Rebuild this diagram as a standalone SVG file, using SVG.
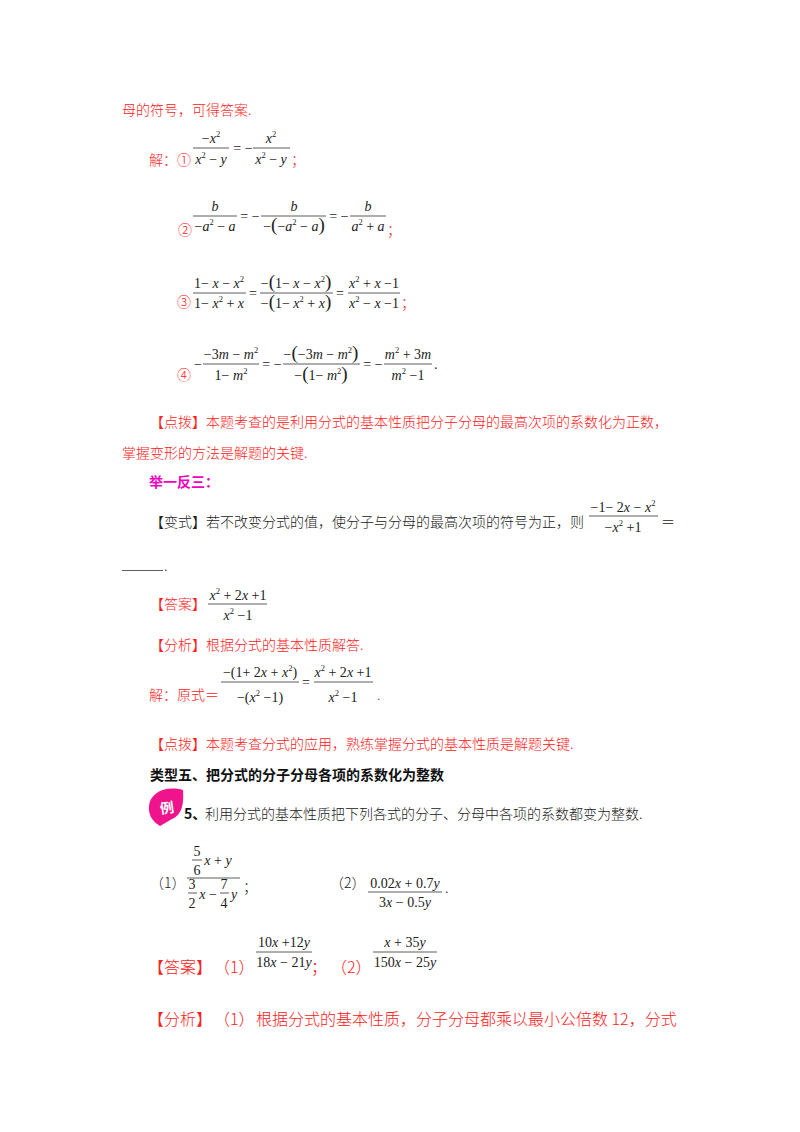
<svg xmlns="http://www.w3.org/2000/svg" width="800" height="1132" viewBox="0 0 800 1132">
<style>
text{font-family:"Noto Sans CJK SC","Liberation Serif",sans-serif;font-size:14px;fill:#ff2020;font-weight:300}
.k{fill:#222}
.b{font-weight:700;fill:#111}
.m{fill:#f000c0;font-weight:700}
.l{font-size:16px}
.t{font-family:"Liberation Serif",serif;font-size:14px;fill:#222;font-weight:400;text-anchor:middle}
.i{font-style:italic}
.s{font-size:8.5px}
.p{font-size:19px;font-weight:400}
.n{font-family:"Liberation Serif",serif;font-size:14px;fill:#222;font-weight:400}
line{stroke:#333;stroke-width:.8}
</style>
<rect width="800" height="1132" fill="#fff"/>

<g id="prose">
<text x="122" y="115">母的符号，可得答案.</text>
<text x="149" y="165">解：①</text>
<text x="178" y="235">②</text>
<text x="291" y="165">；</text>
<text x="387" y="235">；</text>
<text x="177" y="307">③</text>
<text x="401" y="308">；</text>
<text x="177" y="380">④</text>
<text x="150" y="427">【点拨】本题考查的是利用分式的基本性质把分子分母的最高次项的系数化为正数，</text>
<text x="122" y="458">掌握变形的方法是解题的关键.</text>
<text class="m" x="149" y="487">举一反三：</text>
<text class="k" x="150" y="527">【变式】若不改变分式的值，使分子与分母的最高次项的符号为正，则</text>
<text class="k" x="661" y="527">＝</text>
<line x1="122" y1="570.5" x2="163" y2="570.5"/>
<text class="k" x="164" y="571">.</text>
<text x="150" y="609">【答案】</text>
<text x="150" y="650">【分析】根据分式的基本性质解答.</text>
<text x="149" y="700">解：原式＝</text>
<text x="377" y="700">.</text>
<text x="150" y="749">【点拨】本题考查分式的应用，熟练掌握分式的基本性质是解题关键.</text>
<text class="b" x="150" y="780">类型五、把分式的分子分母各项的系数化为整数</text>
<text class="b" x="184" y="819">5、</text>
<text class="k" x="205" y="819">利用分式的基本性质把下列各式的分子、分母中各项的系数都变为整数.</text>
<text class="k" x="150" y="888">（1）</text>
<text class="k" x="243" y="892">；</text>
<text class="k" x="330" y="888">（2）</text>
<text class="k" x="445" y="893">.</text>
<text class="l" x="148" y="973">【答案】</text>
<text class="l" x="214" y="973">（1）</text>
<text class="l" x="311" y="973">；</text>
<text class="l" x="331" y="973">（2）</text>
<text class="l" x="148" y="1025">【分析】</text>
<text class="l" x="214" y="1025">（1）</text>
<text class="l" x="256" y="1025">根据分式的基本性质，分子分母都乘以最小公倍数 12，分式</text>
</g>

<g id="badge">
<path d="M149 806C150 793 165 785 183 790C184 804 182 815 172 819L160 826C153 822 148 815 149 806Z" fill="#f0148c"/>
<text x="167" y="813" style="fill:#fff;font-size:14px;font-weight:700" transform="rotate(-8 167 808)" text-anchor="middle">例</text>
</g>

<g id="eq1">
<line x1="193" y1="148" x2="229" y2="148"/><line x1="253" y1="148" x2="290" y2="148"/>
<text class="t" x="211" y="143">−<tspan class="i">x</tspan><tspan class="s" dy="-6">2</tspan></text>
<text class="t" x="211" y="164"><tspan class="i">x</tspan><tspan class="s" dy="-6">2</tspan><tspan dy="6"> − </tspan><tspan class="i">y</tspan></text>
<text class="t" x="243" y="153">= −</text>
<text class="t" x="271" y="143"><tspan class="i">x</tspan><tspan class="s" dy="-6">2</tspan></text>
<text class="t" x="271" y="164"><tspan class="i">x</tspan><tspan class="s" dy="-6">2</tspan><tspan dy="6"> − </tspan><tspan class="i">y</tspan></text>
</g>

<g id="eq2">
<line x1="193" y1="216" x2="237" y2="216"/><line x1="261" y1="216" x2="326" y2="216"/><line x1="350" y1="216" x2="386" y2="216"/>
<text class="t" x="215" y="211"><tspan class="i">b</tspan></text>
<text class="t" x="215" y="231">−<tspan class="i">a</tspan><tspan class="s" dy="-6">2</tspan><tspan dy="6"> − </tspan><tspan class="i">a</tspan></text>
<text class="t" x="250" y="221">= −</text>
<text class="t" x="294" y="211"><tspan class="i">b</tspan></text>
<text class="t" x="294" y="231">−<tspan class="p">(</tspan>−<tspan class="i">a</tspan><tspan class="s" dy="-6">2</tspan><tspan dy="6"> − </tspan><tspan class="i">a</tspan><tspan class="p">)</tspan></text>
<text class="t" x="339" y="221">= −</text>
<text class="t" x="368" y="211"><tspan class="i">b</tspan></text>
<text class="t" x="368" y="231"><tspan class="i">a</tspan><tspan class="s" dy="-6">2</tspan><tspan dy="6"> + </tspan><tspan class="i">a</tspan></text>
</g>

<g id="eq3">
<line x1="193" y1="293" x2="246" y2="293"/><line x1="260" y1="293" x2="333" y2="293"/><line x1="348" y1="293" x2="400" y2="293"/>
<text class="t" x="219" y="288">1− <tspan class="i">x</tspan> − <tspan class="i">x</tspan><tspan class="s" dy="-6">2</tspan></text>
<text class="t" x="219" y="308">1− <tspan class="i">x</tspan><tspan class="s" dy="-6">2</tspan><tspan dy="6"> + </tspan><tspan class="i">x</tspan></text>
<text class="t" x="253" y="298">=</text>
<text class="t" x="296" y="288">−<tspan class="p">(</tspan>1− <tspan class="i">x</tspan> − <tspan class="i">x</tspan><tspan class="s" dy="-6">2</tspan><tspan class="p" dy="6">)</tspan></text>
<text class="t" x="296" y="308">−<tspan class="p">(</tspan>1− <tspan class="i">x</tspan><tspan class="s" dy="-6">2</tspan><tspan dy="6"> + </tspan><tspan class="i">x</tspan><tspan class="p">)</tspan></text>
<text class="t" x="340" y="298">=</text>
<text class="t" x="374" y="288"><tspan class="i">x</tspan><tspan class="s" dy="-6">2</tspan><tspan dy="6"> + </tspan><tspan class="i">x</tspan> −1</text>
<text class="t" x="374" y="308"><tspan class="i">x</tspan><tspan class="s" dy="-6">2</tspan><tspan dy="6"> − </tspan><tspan class="i">x</tspan> −1</text>
</g>

<g id="eq4">
<line x1="203" y1="364" x2="259" y2="364"/><line x1="283" y1="364" x2="360" y2="364"/><line x1="384" y1="364" x2="432" y2="364"/>
<text class="t" x="198" y="369">−</text>
<text class="t" x="231" y="359">−3<tspan class="i">m</tspan> − <tspan class="i">m</tspan><tspan class="s" dy="-6">2</tspan></text>
<text class="t" x="231" y="380">1− <tspan class="i">m</tspan><tspan class="s" dy="-6">2</tspan></text>
<text class="t" x="272" y="369">= −</text>
<text class="t" x="321" y="359">−<tspan class="p">(</tspan>−3<tspan class="i">m</tspan> − <tspan class="i">m</tspan><tspan class="s" dy="-6">2</tspan><tspan class="p" dy="6">)</tspan></text>
<text class="t" x="321" y="380">−<tspan class="p">(</tspan>1− <tspan class="i">m</tspan><tspan class="s" dy="-6">2</tspan><tspan class="p" dy="6">)</tspan></text>
<text class="t" x="373" y="369">= −</text>
<text class="t" x="408" y="359"><tspan class="i">m</tspan><tspan class="s" dy="-6">2</tspan><tspan dy="6"> + 3</tspan><tspan class="i">m</tspan></text>
<text class="t" x="408" y="380"><tspan class="i">m</tspan><tspan class="s" dy="-6">2</tspan><tspan dy="6"> −1</tspan></text>
<text class="n" x="434" y="369">.</text>
</g>

<g id="eq5">
<line x1="589" y1="516" x2="658" y2="516"/>
<text class="t" x="623" y="512">−1− 2<tspan class="i">x</tspan> − <tspan class="i">x</tspan><tspan class="s" dy="-6">2</tspan></text>
<text class="t" x="623" y="532">−<tspan class="i">x</tspan><tspan class="s" dy="-6">2</tspan><tspan dy="6"> +1</tspan></text>
</g>

<g id="eq6">
<line x1="208" y1="604" x2="267" y2="604"/>
<text class="t" x="238" y="600"><tspan class="i">x</tspan><tspan class="s" dy="-6">2</tspan><tspan dy="6"> + 2</tspan><tspan class="i">x</tspan> +1</text>
<text class="t" x="238" y="620"><tspan class="i">x</tspan><tspan class="s" dy="-6">2</tspan><tspan dy="6"> −1</tspan></text>
</g>

<g id="eq7">
<line x1="221" y1="682" x2="299" y2="682"/><line x1="314" y1="682" x2="373" y2="682"/>
<text class="t" x="260" y="677">−(1+ 2<tspan class="i">x</tspan> + <tspan class="i">x</tspan><tspan class="s" dy="-6">2</tspan><tspan dy="6">)</tspan></text>
<text class="t" x="260" y="702">−(<tspan class="i">x</tspan><tspan class="s" dy="-6">2</tspan><tspan dy="6"> −1)</tspan></text>
<text class="t" x="306" y="687">=</text>
<text class="t" x="343" y="677"><tspan class="i">x</tspan><tspan class="s" dy="-6">2</tspan><tspan dy="6"> + 2</tspan><tspan class="i">x</tspan> +1</text>
<text class="t" x="343" y="702"><tspan class="i">x</tspan><tspan class="s" dy="-6">2</tspan><tspan dy="6"> −1</tspan></text>
</g>

<g id="eq8">
<line x1="187" y1="878" x2="240" y2="878"/><line x1="192" y1="860" x2="202" y2="860"/><line x1="188" y1="893" x2="197" y2="893"/><line x1="220" y1="893" x2="229" y2="893"/><line x1="368" y1="892" x2="442" y2="892"/>
<text class="t" x="197" y="856">5</text>
<text class="t" x="197" y="875">6</text>
<text class="t" x="218" y="865"><tspan class="i">x</tspan> + <tspan class="i">y</tspan></text>
<text class="t" x="192" y="889">3</text>
<text class="t" x="192" y="908">2</text>
<text class="t" x="208" y="899"><tspan class="i">x</tspan> −</text>
<text class="t" x="224" y="889">7</text>
<text class="t" x="224" y="908">4</text>
<text class="t" x="234" y="899"><tspan class="i">y</tspan></text>
<text class="t" x="405" y="888">0.02<tspan class="i">x</tspan> + 0.7<tspan class="i">y</tspan></text>
<text class="t" x="405" y="907">3<tspan class="i">x</tspan> − 0.5<tspan class="i">y</tspan></text>
</g>

<g id="eq9">
<line x1="256" y1="952" x2="312" y2="952"/><line x1="373" y1="952" x2="437" y2="952"/>
<text class="t" x="284" y="947">10<tspan class="i">x</tspan> +12<tspan class="i">y</tspan></text>
<text class="t" x="284" y="967">18<tspan class="i">x</tspan> − 21<tspan class="i">y</tspan></text>
<text class="t" x="405" y="947"><tspan class="i">x</tspan> + 35<tspan class="i">y</tspan></text>
<text class="t" x="405" y="967">150<tspan class="i">x</tspan> − 25<tspan class="i">y</tspan></text>
</g>
</svg>
